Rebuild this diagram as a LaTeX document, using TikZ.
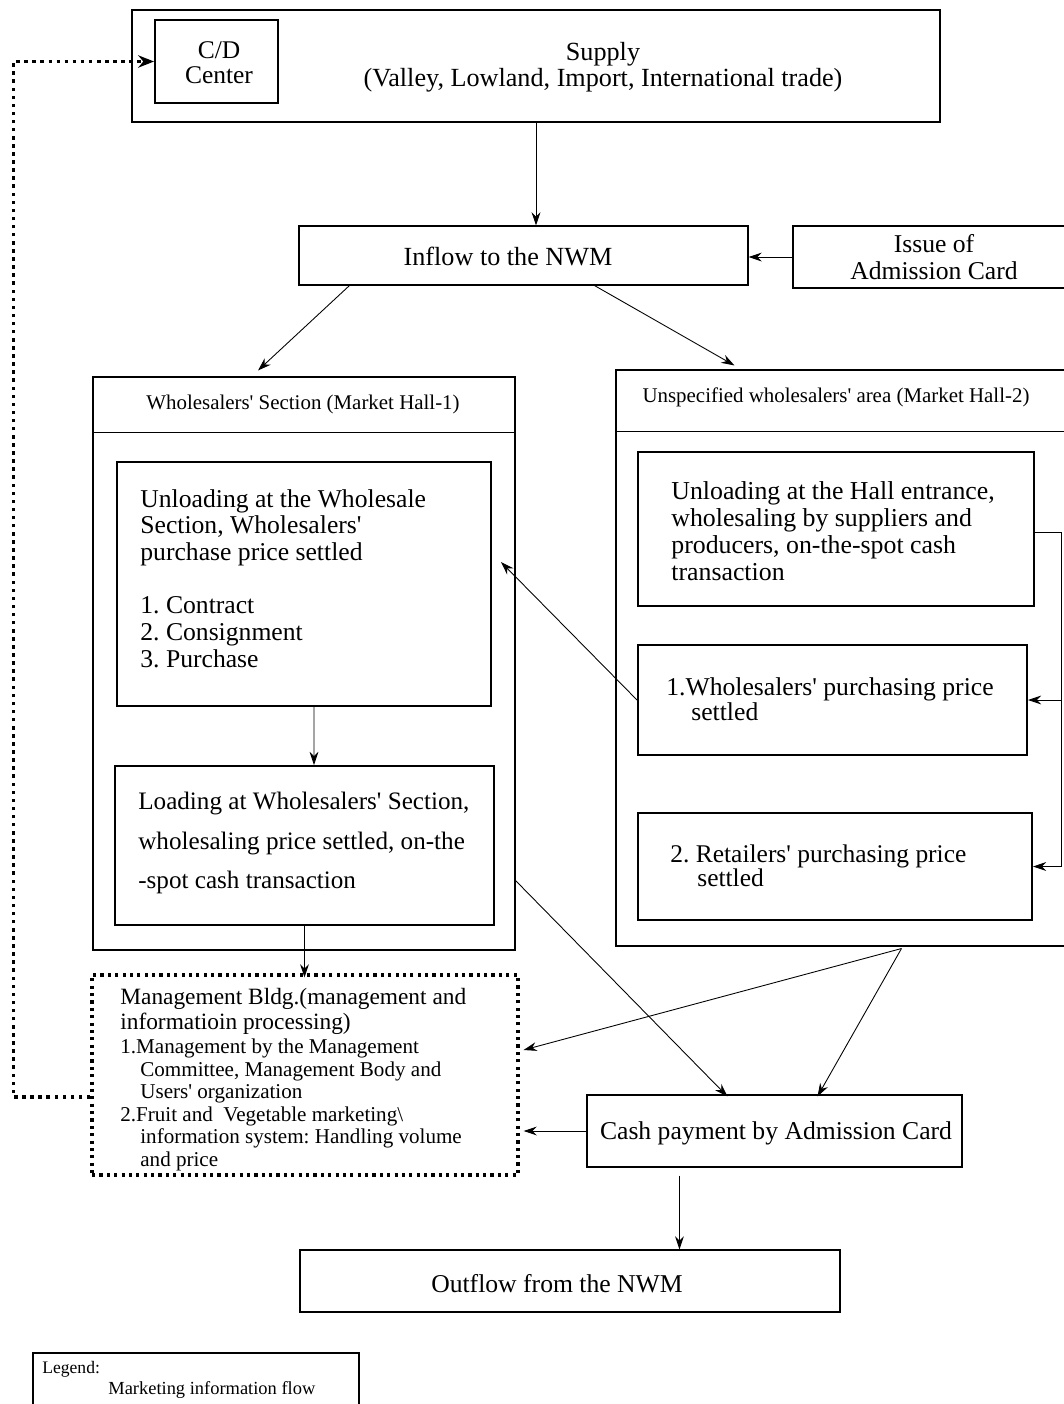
\documentclass[tikz,border=0pt]{standalone}
\usepackage{fontspec}
\setmainfont{Liberation Serif}
\usetikzlibrary{arrows.meta, positioning, calc, fit}

\newcommand\sq{\textquotesingle}
\newcommand\txtmain{\fontsize{14.6}{15.2}\selectfont}
\newcommand\txtwide{\fontsize{14.3}{22.4}\selectfont}
\newcommand\txthead{\fontsize{11.9}{13}\selectfont}
\newcommand\txtmgmt{\fontsize{12}{12.8}\selectfont}
\newcommand\txtlegend{\fontsize{10}{12}\selectfont}

\tikzset{
  box/.style={draw, line width=0.6pt, inner sep=0pt},
  heavybox/.style={draw, line width=1.1pt, inner sep=0pt},
  dotbox/.style={draw, line width=1.8pt, dash pattern=on 1.8pt off 2.4pt, inner sep=0pt},
  txt/.style={inner sep=0pt, align=left},
  flow/.style={-{Stealth[length=7.5pt,width=5pt]}, line width=0.5pt},
  infoflow/.style={-{Stealth[length=9pt,width=7pt]}, line width=2pt, dash pattern=on 2pt off 2.6pt},
}

\begin{document}
\frenchspacing
\begin{tikzpicture}[x=0.02cm, y=-0.02cm, font=\txtmain]
  \useasboundingbox (0,0) rectangle (1064,1404);

  % supply and entrance
  \node[box, fit={(132,10)(940,122)}] (supply) {};
  \node[heavybox, fit={(155,20)(278,103)}] (cd) {};
  \node[txt, align=center, font=\fontsize{14.5}{14.2}\selectfont] (cdtxt) at (219,63) {C/D\\Center};
  \node[txt, align=center, font=\fontsize{14.9}{14.8}\selectfont] (supplytxt) at (603,67) {Supply\\(Valley, Lowland, Import, International trade)};
  \node[box, fit={(299,226)(748,285)}] (inflow) {};
  \node[txt, font=\fontsize{14.9}{16}\selectfont] (inflowtxt) at (508,256) {Inflow to the NWM};
  \node[box, fit={(793,226)(1075,288)}] (issue) {};
  \node[txt, align=center, font=\fontsize{14.6}{15.4}\selectfont] (issuetxt) at (934,257) {Issue of\\Admission Card};

  % market halls
  \node[box, fit={(93,377)(515,950)}] (hallone) {};
  \draw[line width=0.6pt] ($(hallone.north west)+(0,56)$) -- ($(hallone.north east)+(0,56)$);
  \node[txt, font=\txthead] (halloneTxt) at (303,404) {Wholesalers\sq{} Section (Market Hall-1)};
  \node[box, fit={(616,370)(1075,946)}] (halltwo) {};
  \draw[line width=0.6pt] ($(halltwo.north west)+(0,62)$) -- ($(halltwo.north east)+(0,62)$);
  \node[txt, font=\txthead] (halltwoTxt) at (836,397) {Unspecified wholesalers\sq{} area (Market Hall-2)};

  \node[heavybox, fit={(117,462)(491,706)}] (unload) {};
  \node[txt, anchor=north west] (unloadtxt) at (140,489) {Unloading at the Wholesale\\Section, Wholesalers\sq\\purchase price settled\\[15.2pt]1. Contract\\2. Consignment\\3. Purchase};
  \node[heavybox, fit={(115,766)(494,925)}] (load) {};
  \node[txt, anchor=north west, font=\txtwide] (loadtxt) at (138,792) {Loading at Wholesalers\sq{} Section,\\wholesaling price settled, on-the\\-spot cash transaction};

  \node[heavybox, fit={(638,452)(1034,606)}] (entrance) {};
  \node[txt, anchor=north west, font=\fontsize{14.7}{15.4}\selectfont] (entrancetxt) at (671,481) {Unloading at the Hall entrance,\\wholesaling by suppliers and\\producers, on-the-spot cash\\transaction};
  \node[heavybox, fit={(638,645)(1027,755)}] (wsprice) {};
  \node[txt, anchor=north west, font=\fontsize{14.6}{14.2}\selectfont] (wspricetxt) at (666,677) {1.Wholesalers\sq{} purchasing price\\\hspace*{5mm}settled};
  \node[heavybox, fit={(638,813)(1032,920)}] (rtprice) {};
  \node[txt, anchor=north west, font=\fontsize{14.5}{14.2}\selectfont] (rtpricetxt) at (670,844) {2. Retailers\sq{} purchasing price\\\hspace*{5.4mm}settled};

  % management, payment, outflow
  \node[dotbox, fit={(92,975)(518,1175)}] (mgmt) {};
  \node[txt, anchor=north west, font=\fontsize{13.3}{14.2}\selectfont] (mgmttitle) at (120,988) {Management Bldg.(management and\\informatioin processing)};
  \node[txt, anchor=north west, font=\txtmgmt] (mgmtlist) at (120,1039) {1.Management by the Management\\\hspace*{4mm}Committee, Management Body and\\\hspace*{4mm}Users\sq{} organization\\2.Fruit and\ \ Vegetable marketing\textbackslash\\\hspace*{4mm}information system: Handling volume\\\hspace*{4mm}and price};
  \node[box, fit={(587,1095)(962,1167)}] (cash) {};
  \node[txt] (cashtxt) at (776,1133) {Cash payment by Admission Card};
  \node[box, fit={(300,1250)(840,1312)}] (outflow) {};
  \node[txt] (outflowtxt) at (557,1284) {Outflow from the NWM};

  % legend
  \node[box, fit={(33,1353)(359,1420)}] (legend) {};
  \node[txt, anchor=west, font=\txtlegend] (legendtxt) at (42,1369) {Legend:};
  \node[txt, anchor=west, font=\fontsize{10.5}{12}\selectfont] (legendflow) at (108,1390) {Marketing information flow};

  % goods flow
  \draw[flow] (supply.south) -- (supply.south |- inflow.north);
  \draw[flow] (issue.west) -- (issue.west -| inflow.east);
  \draw[flow] ($(inflow.south west)+(51,0)$) -- ($(hallone.north)+(-46,-6)$);
  \draw[flow] ($(inflow.south west)+(296,0)$) -- ($(halltwo.north west)+(119,-4)$);
  \draw[flow] ($(unload.south)+(10,0)$) -- ($(load.north)+(9.5,0)$);
  \draw[flow] (load.south) -- ($(load.south |- mgmt.north)+(0,4)$);
  \coordinate (bend) at ($(entrance.east)+(26,3)$);
  \draw[line width=0.5pt] ($(entrance.east)+(0,3)$) -- (bend);
  \draw[flow] (bend) |- (wsprice.east);
  \draw[flow] (bend) |- (rtprice.east);
  \draw[flow] (wsprice.west) -- ($(unload.east)+(9,-22)$);
  \draw[flow] ($(hallone.east)+(0,217)$) -- ($(cash.north west)+(141,2)$);
  \coordinate (hallout) at ($(halltwo.south west)+(286,2)$);
  \draw[flow] (hallout) -- ($(mgmt.east)+(4,-25)$);
  \draw[flow] (hallout) -- ($(cash.north west)+(231,2)$);
  \draw[flow] (cash.west) -- ($(cash.west -| mgmt.east)+(4,0)$);
  \coordinate (payout) at ($(cash.south west)+(93,8)$);
  \draw[flow] (payout) -- (payout |- outflow.north);

  % information flow
  \draw[infoflow] ($(mgmt.west)+(0,22)$) -- ++(-77,0) |- (cd.west);
\end{tikzpicture}
\end{document}
